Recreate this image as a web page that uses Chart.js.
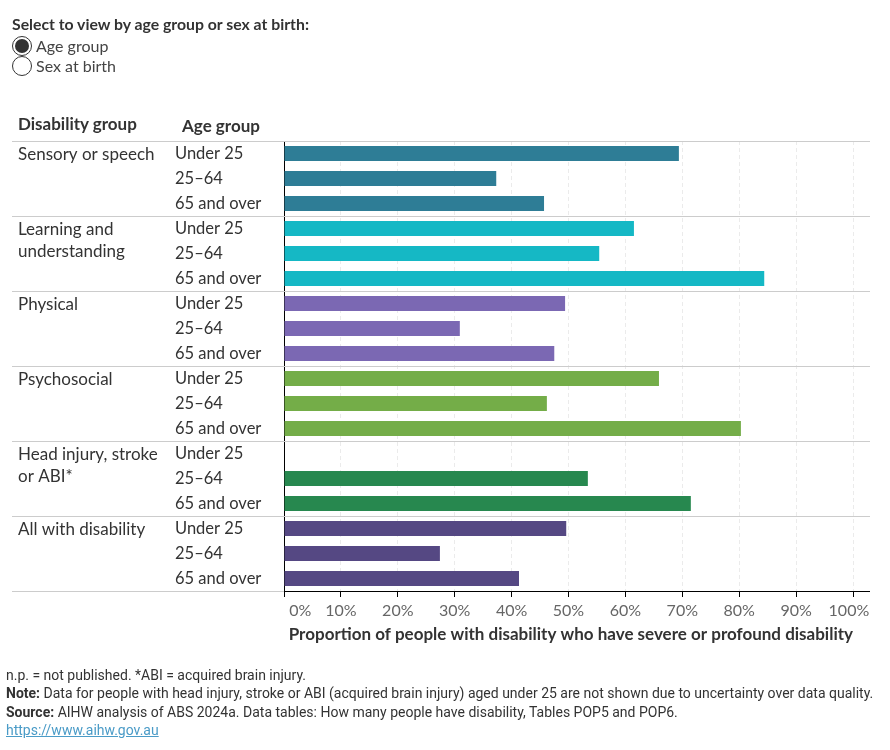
<!DOCTYPE html>
<html>
<head>
<meta charset="utf-8">
<script src="https://cdn.jsdelivr.net/npm/chart.js@4"></script>
<style>
  body { margin: 0; background: #fff; font-family: Lato, "Noto Sans", sans-serif; color: #333; }
  .wrap { position: relative; width: 890px; height: 750px; }
  #myChart { position: absolute; left: 0; top: 0; }
  .picker-title { position: absolute; left: 12px; top: 14px; font-size: 15.8px; font-weight: bold; }
  .radio { position: absolute; left: 12px; font-size: 16px; color: #444; line-height: 20px; }
  .radio span.dot { position: absolute; left: 0; top: 0; width: 20px; height: 20px; border: 1px solid #333; border-radius: 50%; box-sizing: border-box; }
  .radio span.dot.on::after { content: ""; position: absolute; left: 2px; top: 2px; width: 14px; height: 14px; border-radius: 50%; background: #333; }
  .radio .txt { margin-left: 24px; }
  .head { position: absolute; font-size: 17px; font-weight: bold; }
  .foot { position: absolute; left: 6px; font-family: "Liberation Sans Narrow", "Roboto", sans-serif; font-size: 14px; color: #333; white-space: nowrap; }
  .foot a { color: #4a9bc7; }
</style>
</head>
<body>
<div class="wrap">
  <canvas id="myChart" width="890" height="750"></canvas>
  <div class="picker-title">Select to view by age group or sex at birth:</div>
  <div class="radio" style="top:36px"><span class="dot on"></span><span class="txt">Age group</span></div>
  <div class="radio" style="top:56px"><span class="dot"></span><span class="txt">Sex at birth</span></div>
  <div class="head" style="left:18px; top:113px">Disability group</div>
  <div class="head" style="left:182px; top:115px">Age group</div>
  <div class="foot" style="top:667px">n.p. = not published. *ABI = acquired brain injury.</div>
  <div class="foot" style="top:685px"><b>Note:</b> Data for people with head injury, stroke or ABI (acquired brain injury) aged under 25 are not shown due to uncertainty over data quality.</div>
  <div class="foot" style="top:704px"><b>Source:</b> AIHW analysis of ABS 2024a. Data tables: How many people have disability, Tables POP5 and POP6.</div>
  <div class="foot" style="top:722px"><a href="https://www.aihw.gov.au">https://www.aihw.gov.au</a></div>
</div>
<script>
const groups = [
    ['Sensory or speech'],
    ['Learning and', 'understanding'],
    ['Physical'],
    ['Psychosocial'],
    ['Head injury, stroke', 'or ABI*'],
    ['All with disability']
]
const ageGroups = ['Under 25', '25–64', '65 and over']

const sensory = [69.4, 37.3, 45.7]
const learning = [61.5, 55.4, 84.4]
const physical = [49.4, 30.9, 47.5]
const psychosocial = [65.9, 46.2, 80.3]
const headInjury = [null, 53.4, 71.5]   // under 25 not shown
const allDisability = [49.6, 27.4, 41.3]

const xTicks = [0, 10, 20, 30, 40, 50, 60, 70, 80, 90, 100]

const groupColors = ['#2e7d96', '#15b8c5', '#7b68b3', '#74ad48', '#27884f', '#554883']

const diagramm = () => {
    const ctx = document.getElementById("myChart").getContext("2d")

    const series = [sensory, learning, physical, psychosocial, headInjury, allDisability]
    const labels = []
    const values = []
    const colors = []
    series.forEach(function(s, g){
        s.forEach(function(v, i){
            labels.push(ageGroups[i])
            values.push(v)
            colors.push(groupColors[g])
        })
    })

    // group labels + separators between groups
    const groupPlugin = {
        id: 'groupLines',
        beforeDatasetsDraw(chart){
            const c = chart.ctx
            const y = chart.scales.y
            const x = chart.scales.x
            c.save()
            c.strokeStyle = '#cccccc'
            c.lineWidth = 1
            for (let g = 0; g <= groups.length; g++){
                const py = Math.round(y.getPixelForValue(g * 3 - 0.5)) + 0.5
                c.beginPath()
                c.moveTo(12, py)
                c.lineTo(g === groups.length ? x.left : 870, py)
                c.stroke()
            }
            // black axis line continues past 100%
            const by = Math.round(chart.chartArea.bottom) + 0.5
            c.strokeStyle = '#000'
            c.beginPath()
            c.moveTo(x.right, by)
            c.lineTo(870, by)
            c.stroke()
            c.restore()
        },
        afterDraw(chart){
            const c = chart.ctx
            const y = chart.scales.y
            c.save()
            c.font = '17px Lato, "Noto Sans", sans-serif'
            c.fillStyle = '#333'
            c.textBaseline = 'middle'
            c.textAlign = 'left'
            groups.forEach(function(lines, g){
                const py = y.getPixelForValue(g * 3) + 1
                lines.forEach(function(t, k){
                    c.fillText(t, 18, py + k * 22)
                })
            })
            c.restore()
        }
    }

    const config = {
        type: 'bar',
        data: {
            labels,
            datasets: [{
                data: values,
                backgroundColor: colors,
                barPercentage: 0.6,
                categoryPercentage: 1,
            }]
        },
        options: {
            indexAxis: 'y',
            responsive: false,
            animation: false,
            devicePixelRatio: 1,
            layout: {
                padding: {left: 175, top: 141, right: 37, bottom: 99}
            },
            plugins: {
                legend: {display: false},
                tooltip: {enabled: false},
            },
            scales: {
                x: {
                    min: 0,
                    max: 100,
                    afterBuildTicks: function(scale){
                        scale.ticks = xTicks.map(v => ({value: v}))
                    },
                    afterFit: function(scale){
                        scale.height = 60
                    },
                    ticks: {
                        // end labels sit inside the axis like the original
                        callback: function(v){
                            if (v === 0) return '        0%'
                            if (v === 100) return '100%  '
                            return v + '%'
                        },
                        maxRotation: 0,
                        minRotation: 0,
                        autoSkip: false,
                        color: '#666',
                        padding: 4,
                        font: {family: 'Lato, "Noto Sans", sans-serif', size: 16},
                    },
                    grid: {
                        color: '#ebebeb',
                        tickColor: '#000',
                        tickLength: 6,
                    },
                    border: {
                        color: '#000',
                        dash: [4, 3],
                    },
                    title: {
                        display: true,
                        align: 'end',
                        text: 'Proportion of people with disability who have severe or profound disability',
                        color: '#333',
                        font: {family: 'Lato, "Noto Sans", sans-serif', size: 17, weight: 'bold'},
                        padding: {top: 4, bottom: 6},
                    }
                },
                y: {
                    afterFit: function(scale){
                        scale.width = 109
                    },
                    ticks: {
                        crossAlign: 'far',
                        padding: 0,
                        autoSkip: false,
                        color: '#333',
                        font: {family: 'Lato, "Noto Sans", sans-serif', size: 16.5},
                    },
                    grid: {display: false},
                    border: {color: '#000'},
                }
            }
        },
        plugins: [groupPlugin]
    }

    const myChart = new Chart(ctx, config)
}

diagramm()
</script>
</body>
</html>
